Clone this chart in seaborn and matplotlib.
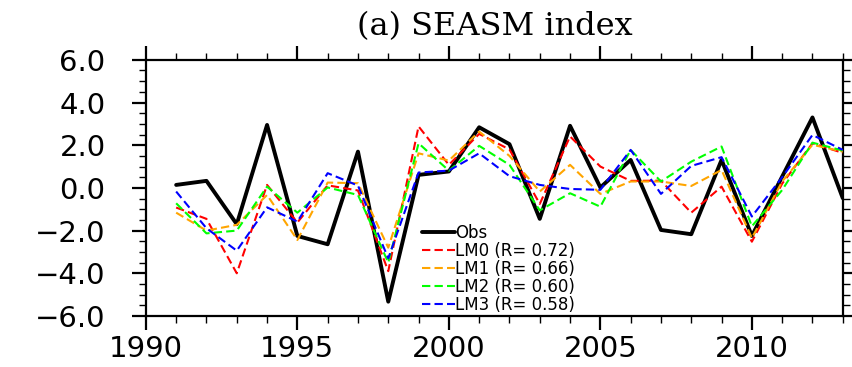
import matplotlib
matplotlib.use("Agg")
import matplotlib.pyplot as plt
import seaborn as sns
import numpy as np
import pandas as pd
from matplotlib.ticker import MultipleLocator

# SEASM index, observed vs. four models
years = list(range(1991, 2014))
obs = [0.14, 0.33, -1.70, 2.95, -2.25, -2.64, 1.70, -5.33, 0.61, 0.77, 2.84, 2.05,
       -1.45, 2.91, 0.02, 1.31, -1.97, -2.17, 1.31, -2.25, 0.53, 3.30, -0.48]
lm0 = [-0.92, -1.45, -4.00, 0.14, -1.62, 0.12, -0.12, -3.90, 2.88, 1.08, 2.53, 1.80,
       -0.75, 2.41, 1.00, 0.33, 0.34, -1.16, 0.06, -2.52, 0.20, 2.09, 1.64]
lm1 = [-1.16, -2.00, -1.73, -0.33, -2.44, 0.25, 0.22, -2.80, 1.62, 1.28, 2.64, 1.50,
       -0.17, 1.08, -0.28, 0.30, 0.30, 0.09, 0.84, -2.35, 0.30, 2.02, 1.70]
lm2 = [-0.72, -2.13, -2.00, 0.06, -1.16, 0.02, -0.33, -3.50, 2.09, 0.81, 1.97, 1.08,
       -1.05, -0.25, -0.88, 1.78, 0.30, 1.23, 1.94, -1.80, -0.10, 2.12, 1.75]
lm3 = [-0.17, -1.89, -2.94, -0.91, -1.58, 0.69, 0.11, -3.30, 0.72, 0.81, 1.62, 0.55,
       0.14, -0.05, -0.09, 1.78, -0.28, 1.03, 1.44, -1.34, 0.50, 2.48, 1.78]

model_names = ["LM0 (R= 0.72)", "LM1 (R= 0.66)", "LM2 (R= 0.60)", "LM3 (R= 0.58)"]
model_vals = [lm0, lm1, lm2, lm3]
model_colors = ["#ff0000", "#ffa500", "#00ff00", "#0000ff"]
yticks = [-6.0, -4.0, -2.0, 0.0, 2.0, 4.0, 6.0]

sns.set_style("white")
plt.rcParams["font.family"] = ["DejaVu Sans"]
plt.rcParams["text.color"] = "black"
plt.rcParams["xtick.labelcolor"] = "black"
plt.rcParams["ytick.labelcolor"] = "black"

fig = plt.figure(figsize=(8.53, 3.67), dpi=100)
ax = fig.add_axes([0.171, 0.139, 0.817, 0.698])

sns.lineplot(x=years, y=obs, ax=ax, color="black", linewidth=2.8,
             label="Obs", zorder=2)
for name, vals, col in zip(model_names, model_vals, model_colors):
    sns.lineplot(x=years, y=vals, ax=ax, color=col, linewidth=1.5,
                 label=name, zorder=3)
    ax.lines[-1].set_dashes((4, 2))

ax.xaxis.set_major_locator(MultipleLocator(5))
ax.xaxis.set_minor_locator(MultipleLocator(1))
ax.set_yticks(yticks)
ax.set_yticklabels([f"{v:.1f}".replace("-", "\u2212") for v in yticks])
ax.yaxis.set_minor_locator(MultipleLocator(0.5))
ax.set_xlim(1990, 2013)
ax.set_ylim(-6, 6)

ax.tick_params(which="both", direction="out", top=True, right=True,
               bottom=True, left=True, labeltop=False, labelright=False,
               color="black")
ax.tick_params(which="major", length=10, width=1.6, labelsize=21, pad=4)
ax.tick_params(axis="y", which="major", pad=19)
ax.tick_params(which="minor", length=5, width=1.0)
for sp in ax.spines.values():
    sp.set_linewidth(1.6)
    sp.set_color("black")

ax.set_xlabel("")
ax.set_ylabel("")
ax.set_title("(a) SEASM index", fontsize=23, family="DejaVu Serif", pad=18,
             color="black")

leg = ax.legend(loc="upper left", bbox_to_anchor=(0.396, 0.36), frameon=False,
                fontsize=12, handlelength=2.0, handletextpad=0.0,
                labelspacing=0.0, borderpad=0, borderaxespad=0)

fig.savefig("out.png", dpi=100)
